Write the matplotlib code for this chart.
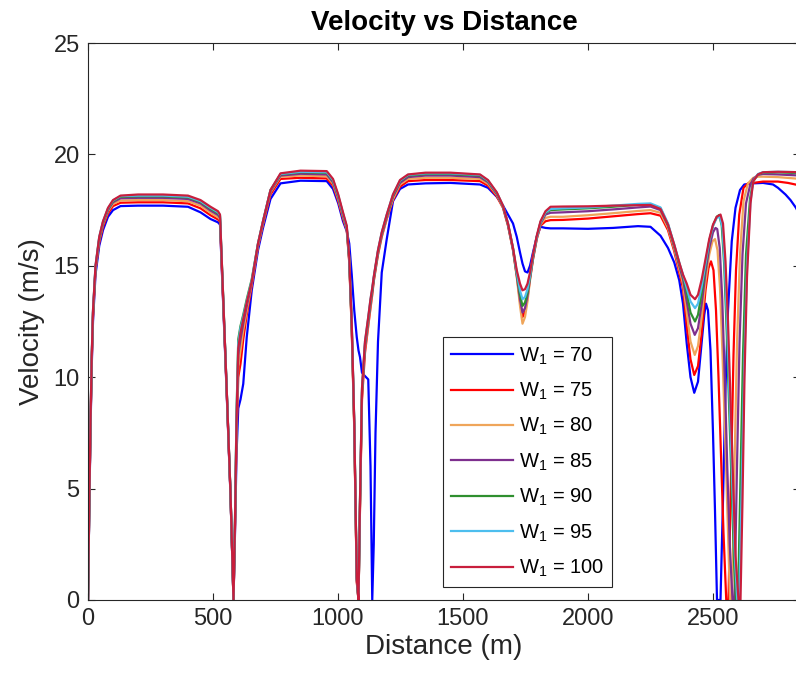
import matplotlib
matplotlib.use("Agg")
import matplotlib.pyplot as plt

plt.rcParams["font.family"] = ["Liberation Sans", "DejaVu Sans"]
plt.rcParams["mathtext.fontset"] = "custom"
plt.rcParams["mathtext.rm"] = "Liberation Sans"
plt.rcParams["mathtext.it"] = "Liberation Sans:italic"

# shared distance grid for the first part of the track (m)
dist_a = [0, 5, 10, 15, 20, 30, 45, 60, 80, 100, 130,
          200, 300, 400, 450, 490, 520, 528,
          540, 555, 570, 582,
          588, 594, 601, 610, 621, 635, 655, 680, 700, 730, 770,
          850, 955, 980, 1001, 1020, 1035,
          1045, 1055, 1065, 1075, 1082, 1088, 1096, 1108, 1121, 1130, 1137,
          1143, 1150, 1160, 1175, 1195, 1220, 1248, 1280,
          1350, 1450, 1568, 1600, 1635,
          1660, 1680, 1700, 1715, 1728, 1738, 1748, 1758, 1768, 1780, 1795, 1810, 1830, 1850,
          1900, 2000, 2100, 2200, 2250, 2290, 2320, 2345, 2365, 2380]

# velocities (m/s) on dist_a
v70_a = [0, 4.0, 7.6, 10.5, 12.5, 14.6, 15.9, 16.6, 17.2, 17.5, 17.68,
         17.7, 17.7, 17.65, 17.4, 17.1, 16.95, 16.85,
         13.5, 9.2, 4.7, 0,
         3.0, 6.5, 8.6, 9.0, 9.7, 11.8, 13.9, 15.7, 16.7, 18.0, 18.7,
         18.82, 18.8, 18.45, 17.8, 17.0, 16.55,
         16.0, 14.6, 13.0, 11.8, 11.2, 10.9, 10.2, 10.05, 9.9, 6.0, 0,
         2.5, 7.5, 11.6, 14.7, 16.2, 17.9, 18.45, 18.65,
         18.7, 18.72, 18.65, 18.5, 18.1,
         17.7, 17.3, 16.9, 16.3, 15.6, 15.1, 14.75, 14.7, 15.0, 15.6, 16.3, 16.75, 16.7, 16.68,
         16.68, 16.66, 16.7, 16.78, 16.75, 16.35, 15.8, 15.15, 14.35, 13.3]
v75_a = [0, 4.1, 7.8, 10.7, 12.7, 14.8, 16.05, 16.75, 17.35, 17.68, 17.83,
         17.85, 17.85, 17.8, 17.58, 17.27, 17.08, 16.98,
         13.6, 9.3, 4.7, 0,
         3.2, 7.2, 10.0, 10.6, 11.7, 12.8, 14.1, 15.85, 16.85, 18.2, 18.9,
         18.95, 18.92, 18.6, 17.9, 17.12, 16.6,
         15.15, 12.1, 7.7, 0.8, 0, 4.1, 9.0, 11.1, 12.3, 13.1, 13.7,
         14.3, 14.8, 15.5, 16.3, 17.1, 17.95, 18.55, 18.8,
         18.85, 18.85, 18.8, 18.6, 18.12,
         17.6, 16.8, 15.7, 14.55, 13.4, 12.7, 12.95, 13.55, 14.4, 15.3, 16.2, 16.8, 17.0, 17.05,
         17.06, 17.12, 17.22, 17.32, 17.36, 17.25, 16.6, 15.65, 14.7, 14.0]
v80_a = [0, 4.1, 7.8, 10.8, 12.8, 14.85, 16.15, 16.85, 17.45, 17.78, 17.93,
         17.95, 17.95, 17.9, 17.7, 17.38, 17.18, 17.08,
         13.7, 9.3, 4.8, 0,
         3.3, 7.5, 10.5, 11.2, 12.1, 13.0, 14.2, 15.9, 16.9, 18.3, 19.0,
         19.05, 19.02, 18.68, 17.98, 17.2, 16.65,
         15.2, 12.2, 7.8, 0.9, 0, 4.2, 9.2, 11.3, 12.4, 13.2, 13.8,
         14.35, 14.85, 15.55, 16.35, 17.15, 18.0, 18.65, 18.9,
         18.95, 18.95, 18.9, 18.68, 18.18,
         17.62, 16.82, 15.72, 14.5, 13.2, 12.4, 12.7, 13.4, 14.35, 15.3, 16.2, 16.85, 17.15, 17.2,
         17.2, 17.27, 17.36, 17.46, 17.5, 17.38, 16.7, 15.75, 14.85, 14.2]
v85_a = [0, 4.1, 7.9, 10.9, 12.9, 14.9, 16.2, 16.9, 17.5, 17.85, 18.03,
         18.05, 18.05, 18.0, 17.8, 17.48, 17.28, 17.16,
         13.7, 9.4, 4.8, 0,
         3.4, 7.8, 11.0, 11.7, 12.4, 13.2, 14.25, 15.95, 16.95, 18.35, 19.05,
         19.13, 19.1, 18.75, 18.05, 17.25, 16.7,
         15.25, 12.3, 7.9, 0.9, 0, 4.3, 9.3, 11.4, 12.5, 13.3, 13.85,
         14.4, 14.9, 15.6, 16.4, 17.2, 18.1, 18.72, 18.98,
         19.05, 19.05, 18.98, 18.75, 18.22,
         17.65, 16.85, 15.75, 14.6, 13.5, 12.9, 13.1, 13.65, 14.45, 15.35, 16.25, 16.9, 17.3, 17.38,
         17.4, 17.45, 17.53, 17.62, 17.66, 17.5, 16.8, 15.85, 15.0, 14.4]
v90_a = [0, 4.2, 7.9, 10.9, 12.9, 14.95, 16.25, 16.95, 17.55, 17.9, 18.1,
         18.12, 18.12, 18.07, 17.87, 17.56, 17.36, 17.24,
         13.8, 9.4, 4.8, 0,
         3.6, 8.3, 11.7, 12.3, 12.8, 13.5, 14.4, 16.0, 17.0, 18.4, 19.1,
         19.2, 19.17, 18.82, 18.12, 17.32, 16.72,
         15.3, 12.3, 7.9, 1.0, 0, 4.4, 9.4, 11.5, 12.6, 13.4, 13.9,
         14.45, 14.95, 15.65, 16.45, 17.25, 18.15, 18.8, 19.05,
         19.12, 19.12, 19.05, 18.8, 18.26,
         17.68, 16.88, 15.78, 14.65, 13.7, 13.2, 13.35, 13.8, 14.5, 15.4, 16.3, 16.95, 17.38, 17.5,
         17.53, 17.58, 17.65, 17.74, 17.76, 17.58, 16.85, 15.9, 15.1, 14.55]
v95_a = [0, 4.2, 8.0, 11.0, 13.0, 15.0, 16.3, 16.98, 17.58, 17.93, 18.13,
         18.15, 18.15, 18.1, 17.9, 17.6, 17.4, 17.27,
         13.8, 9.4, 4.8, 0,
         3.6, 8.2, 11.5, 12.2, 12.7, 13.4, 14.35, 16.0, 17.0, 18.4, 19.12,
         19.22, 19.2, 18.85, 18.15, 17.35, 16.75,
         15.35, 12.4, 8.0, 1.0, 0, 4.5, 9.5, 11.6, 12.7, 13.5, 14.0,
         14.5, 15.0, 15.7, 16.5, 17.3, 18.2, 18.82, 19.08,
         19.15, 19.15, 19.08, 18.82, 18.28,
         17.7, 16.9, 15.8, 14.7, 13.9, 13.5, 13.6, 13.95, 14.55, 15.45, 16.3, 16.95, 17.4, 17.55,
         17.58, 17.62, 17.7, 17.78, 17.8, 17.62, 16.9, 15.95, 15.15, 14.6]
v100_a = [0, 4.2, 8.0, 11.0, 13.0, 15.0, 16.3, 17.0, 17.6, 17.95, 18.15,
          18.2, 18.2, 18.15, 17.95, 17.65, 17.45, 17.3,
          13.8, 9.4, 4.8, 0,
          3.5, 8.0, 11.3, 12.0, 12.6, 13.35, 14.3, 16.0, 17.0, 18.4, 19.15,
          19.27, 19.25, 18.9, 18.2, 17.4, 16.8,
          15.4, 12.4, 8.0, 1.0, 0, 4.5, 9.5, 11.6, 12.7, 13.5, 14.0,
          14.5, 15.0, 15.7, 16.5, 17.3, 18.2, 18.85, 19.1,
          19.18, 19.18, 19.1, 18.85, 18.3,
          17.7, 16.9, 15.8, 14.8, 14.2, 13.9, 13.95, 14.2, 14.7, 15.5, 16.35, 17.0, 17.45, 17.65,
          17.66, 17.67, 17.7, 17.72, 17.73, 17.55, 16.85, 15.95, 15.15, 14.6]

# last part of the track, each run has its own points
d70_b = [2395, 2410, 2425, 2440, 2455, 2465, 2472, 2480, 2490, 2500, 2508, 2516, 2530, 2540,
         2550, 2560, 2575, 2590, 2608, 2625, 2660, 2700, 2740, 2760, 2790, 2810, 2832, 2850]
v70_b = [11.5, 10.0, 9.3, 9.8, 11.6, 12.8, 13.3, 13.0, 11.2, 7.5, 4.0, 0, 0, 4.5,
         9.5, 13.0, 16.1, 17.6, 18.4, 18.65, 18.7, 18.72, 18.65, 18.5, 18.2, 17.95, 17.6, 17.2]
d75_b = [2395, 2410, 2425, 2440, 2455, 2470, 2482, 2492, 2502, 2512, 2522, 2532, 2542,
         2553, 2562, 2572, 2582, 2592, 2605, 2622, 2640, 2661, 2700, 2760, 2800, 2850]
v75_b = [12.3, 10.8, 10.1, 10.5, 12.0, 13.9, 14.9, 15.2, 14.8, 13.0, 10.0, 6.5, 3.0,
         0, 0, 5.5, 11.0, 14.8, 17.3, 18.5, 18.7, 18.72, 18.78, 18.78, 18.72, 18.6]
d80_b = [2395, 2410, 2427, 2440, 2455, 2470, 2485, 2498, 2508, 2518, 2528, 2538, 2548,
         2558, 2568, 2576, 2586, 2596, 2608, 2622, 2640, 2661, 2680, 2700, 2760, 2850]
v80_b = [12.9, 11.6, 11.0, 11.4, 12.7, 14.3, 15.5, 16.1, 16.2, 15.7, 14.0, 11.0, 7.5,
         3.8, 0, 0, 6.0, 11.5, 15.5, 17.9, 18.7, 18.95, 19.0, 19.0, 18.98, 18.9]
d85_b = [2395, 2410, 2427, 2440, 2455, 2470, 2485, 2500, 2510, 2517, 2527, 2537, 2547, 2557,
         2567, 2578, 2586, 2596, 2606, 2618, 2632, 2648, 2661, 2680, 2700, 2760, 2850]
v85_b = [13.4, 12.4, 11.9, 12.2, 13.3, 14.7, 15.8, 16.5, 16.7, 16.65, 15.8, 13.5, 10.0, 6.0,
         2.5, 0, 0, 6.0, 11.5, 15.5, 17.8, 18.6, 18.9, 19.08, 19.12, 19.1, 19.05]
d90_b = [2395, 2410, 2428, 2440, 2455, 2470, 2485, 2500, 2515, 2525, 2535, 2545, 2555, 2565,
         2575, 2585, 2592, 2600, 2610, 2620, 2632, 2648, 2661, 2680, 2700, 2760, 2850]
v90_b = [13.8, 12.9, 12.5, 12.8, 13.8, 15.0, 16.1, 16.8, 17.2, 17.28, 16.8, 15.0, 12.0, 8.5,
         5.0, 1.5, 0, 0, 5.5, 11.0, 15.5, 18.0, 18.8, 19.1, 19.18, 19.2, 19.15]
d95_b = [2395, 2410, 2428, 2440, 2455, 2470, 2485, 2500, 2515, 2528, 2538, 2548, 2558, 2568,
         2578, 2588, 2597, 2605, 2615, 2625, 2636, 2650, 2661, 2680, 2700, 2760, 2850]
v95_b = [14.0, 13.4, 13.1, 13.3, 14.1, 15.1, 16.1, 16.8, 17.15, 17.2, 16.7, 14.8, 12.0, 8.5,
         5.0, 1.8, 0, 0, 5.0, 10.5, 15.0, 17.9, 18.8, 19.12, 19.2, 19.22, 19.2]
d100_b = [2395, 2410, 2428, 2440, 2455, 2470, 2485, 2500, 2515, 2530, 2540, 2550, 2560, 2570,
          2580, 2590, 2602, 2610, 2618, 2626, 2636, 2650, 2661, 2680, 2700, 2760, 2850]
v100_b = [14.2, 13.7, 13.5, 13.7, 14.4, 15.3, 16.2, 16.85, 17.2, 17.3, 16.9, 15.2, 12.5, 9.0,
          5.5, 2.0, 0, 0, 4.5, 10.0, 14.5, 17.8, 18.8, 19.1, 19.2, 19.22, 19.2]

w1 = [70, 75, 80, 85, 90, 95, 100]
colors = ["#0000ff", "#ff0000", "#efa55a", "#7e2f8e", "#2f8f2f", "#4dbeee", "#c81e3c"]

runs = [(dist_a + d70_b, v70_a + v70_b),
        (dist_a + d75_b, v75_a + v75_b),
        (dist_a + d80_b, v80_a + v80_b),
        (dist_a + d85_b, v85_a + v85_b),
        (dist_a + d90_b, v90_a + v90_b),
        (dist_a + d95_b, v95_a + v95_b),
        (dist_a + d100_b, v100_a + v100_b)]

fig = plt.figure(figsize=(7.96, 6.85), dpi=100)
ax = fig.add_axes([88/796, 85/685, 712/796, 557/685])

for w, (d, v), c in zip(w1, runs, colors):
    ax.plot(d, v, color=c, lw=1.6, label=r"W$_1$ = %d" % w)

ax.set_xlim(0, 2848)
ax.set_ylim(0, 25)
ax.set_xticks([0, 500, 1000, 1500, 2000, 2500])
ax.set_yticks([0, 5, 10, 15, 20, 25])
ax.tick_params(direction="in", top=True, right=True, length=5, width=0.8,
               labelsize=17, colors="0.15", pad=6)
for s in ax.spines.values():
    s.set_color("0.15")
    s.set_linewidth(0.8)

ax.set_xlabel("Distance (m)", fontsize=20, color="0.15", labelpad=3)
ax.set_ylabel("Velocity (m/s)", fontsize=20, color="0.15", labelpad=6)
ax.set_title("Velocity vs Distance", fontsize=20, fontweight="bold", pad=9)

leg = ax.legend(loc="lower left", bbox_to_anchor=(0.4986, 0.0233), frameon=True,
                fancybox=False, edgecolor="0.15", framealpha=1, fontsize=14.5,
                handlelength=3.1, labelspacing=0.7, borderpad=0.4,
                handletextpad=0.25, borderaxespad=0)
leg.get_frame().set_linewidth(0.8)

fig.savefig("out.png", dpi=100)
